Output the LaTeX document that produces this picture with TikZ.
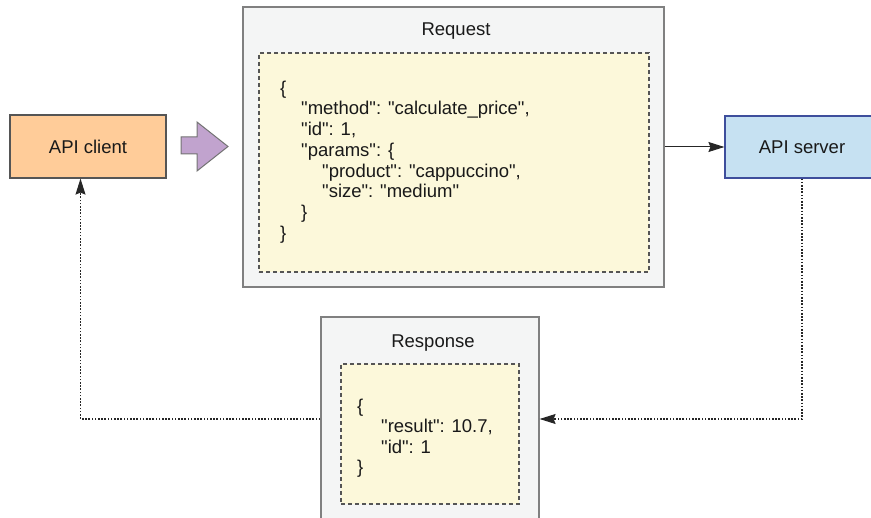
\documentclass[tikz,border=0pt]{standalone}
\usepackage{fontspec}
\setmainfont{Liberation Sans}[Ligatures=TeXOff]
\usetikzlibrary{arrows.meta}
\definecolor{clientfill}{HTML}{FFCC99}
\definecolor{serverfill}{HTML}{C6E1F2}
\definecolor{serverdraw}{HTML}{3E4E9C}
\definecolor{arrowfill}{HTML}{C1A3CE}
\definecolor{outerfill}{HTML}{F4F5F5}
\definecolor{innerfill}{HTML}{FCF8DA}
\definecolor{linegray}{HTML}{555555}
\tikzset{
  x=1pt, y=-1pt,
  every node/.style={font=\fontsize{18.5}{20.7}\selectfont, text=black!90},
  actor/.style={draw=linegray, line width=1.2pt, inner sep=0pt, minimum width=#1},
  outerbox/.style={draw=black!50, fill=outerfill, line width=1.2pt, inner sep=0pt},
  innerbox/.style={draw=linegray, fill=innerfill, line width=1.1pt, dash pattern=on 4pt off 3pt, inner sep=0pt},
  jline/.style={anchor=base west, inner sep=0pt},
  ttl/.style={anchor=base, inner sep=0pt},
  conntip/.style={-{Stealth[length=16pt,width=10pt,inset=2pt]}},
  solidconn/.style={conntip, draw=black!85, line width=1pt},
  dotconn/.style={conntip, draw=black!85, line width=1.1pt, dash pattern=on 1.6pt off 1.6pt},
}
\begin{document}
\begin{tikzpicture}
\useasboundingbox (0,0) rectangle (871,518);
\clip (0,0) rectangle (871,518);
% Request box
\node[outerbox, minimum width=421pt, minimum height=280pt] (req) at (453.5,147) {};
\node[innerbox, minimum width=390pt, minimum height=219pt] (reqin) at (454,162.5) {};
\node[ttl] (reqt) at (456,36) {Request};
\node[jline] (r1) at (280,94.3) {\{};
\node[jline] (r2) at (301,115) {"method": "calculate\_price",};
\node[jline] (r3) at (301,135.7) {"id": 1,};
\node[jline] (r4) at (301,156.4) {"params": \{};
\node[jline] (r5) at (322,177.1) {"product": "cappuccino",};
\node[jline] (r6) at (322,197.8) {"size": "medium"};
\node[jline] (r7) at (301,218.5) {\}};
\node[jline] (r8) at (280,239.2) {\}};
% Response box
\node[outerbox, minimum width=218pt, minimum height=204pt] (resp) at (430,419) {};
\node[innerbox, minimum width=178pt, minimum height=140pt] (respin) at (430,434) {};
\node[ttl] (respt) at (433,348) {Response};
\node[jline] (s1) at (357,412.5) {\{};
\node[jline] (s2) at (381,433) {"result": 10.7,};
\node[jline] (s3) at (381,453.5) {"id": 1};
\node[jline] (s4) at (357,474) {\}};
% Actors
\node[actor=156pt, fill=clientfill, minimum height=63pt] (client) at (88,146.5) {API client};
\node[actor=154pt, fill=serverfill, draw=serverdraw, minimum height=62pt] (server) at (802,147) {API server};
% Purple arrow
\draw[fill=arrowfill, draw=black!55, line width=1pt, line join=miter]
  (181,137) -- (197,137) -- (197,122) -- (228,146.5) -- (197,171) -- (197,154) -- (181,154) -- cycle;
% Connectors
\draw[solidconn] (req.east) -- (server.west);
\draw[dotconn] (server.south) |- (resp.east);
\coordinate (cin) at ([xshift=-7.5pt]client.south);
\draw[dotconn] (resp.west) -| (cin);
\end{tikzpicture}
\end{document}
